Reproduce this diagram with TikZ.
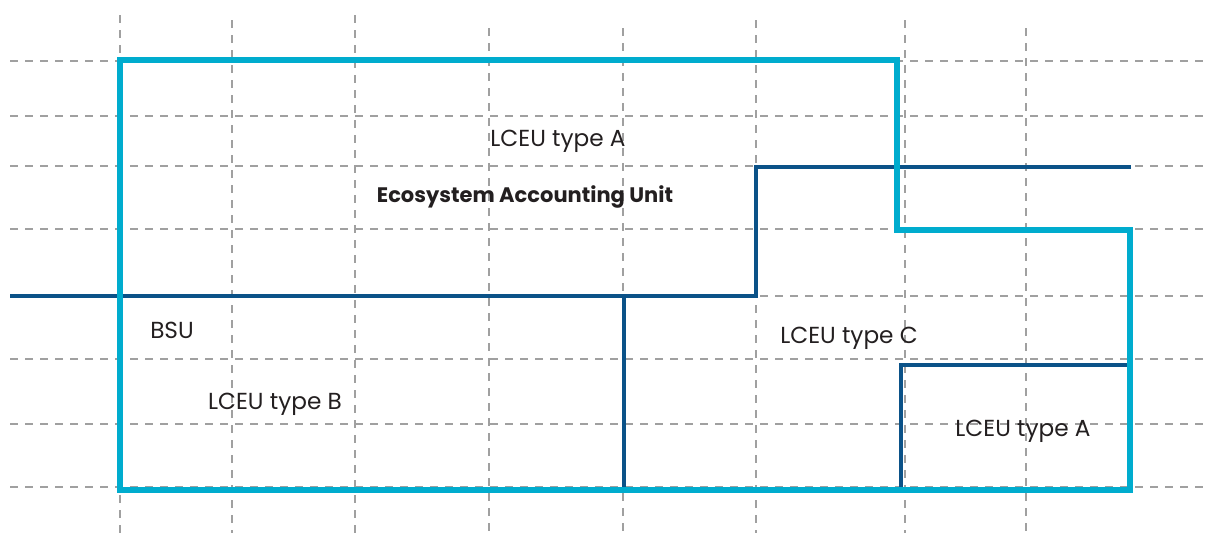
\documentclass[tikz,border=0pt]{standalone}
\usepackage{fontspec}
\setmainfont{Poppins}
\definecolor{lightb}{RGB}{0,172,206}
\definecolor{darkb}{RGB}{11,82,136}
\definecolor{gridg}{RGB}{160,160,160}
\definecolor{txt}{RGB}{35,31,32}
\tikzset{
  gridline/.style={draw=gridg,line width=0.7pt,dash pattern=on 4pt off 3.5pt},
  outerline/.style={draw=lightb,line width=2.6pt},
  innerline/.style={draw=darkb,line width=2.2pt},
  lbl/.style={font=\fontsize{11.6}{13}\selectfont,text=txt,inner sep=0pt},
  boldlbl/.style={font=\fontsize{10.5}{13}\selectfont\bfseries,text=txt,inner sep=0pt}
}
\begin{document}
\begin{tikzpicture}[x=0.5pt,y=-0.5pt]
\useasboundingbox (0,0) rectangle (1211,552);
% grid
\foreach \y in {61,116,166,229,296,359,424,487}
  \draw[gridline] (10,\y) -- (1208,\y);
\foreach \x/\t in {120/15,232/20,355/15,489/28,623/28,756/20,905/20,1026/28}
  \draw[gridline] (\x,\t) -- (\x,533);
% dark blue lines
\draw[innerline] (10,296) -- (756,296) -- (756,167) -- (1131,167);
\draw[innerline] (624,296) -- (624,490);
\draw[innerline] (901,490) -- (901,365) -- (1130,365);
% light blue outline
\draw[outerline,line join=miter] (120,60) -- (897,60) -- (897,230) -- (1130,230) -- (1130,490) -- (120,490) -- cycle;
% labels
\node[lbl] (a1) at (558,141) {LCEU type A};
\node[boldlbl] (eau) at (525,197) {Ecosystem Accounting Unit};
\node[lbl] (bsu) at (172,330) {BSU};
\node[lbl] (b) at (275,404) {LCEU type B};
\node[lbl] (c) at (849,338) {LCEU type C};
\node[lbl] (a2) at (1023,431) {LCEU type A};
\end{tikzpicture}
\end{document}
